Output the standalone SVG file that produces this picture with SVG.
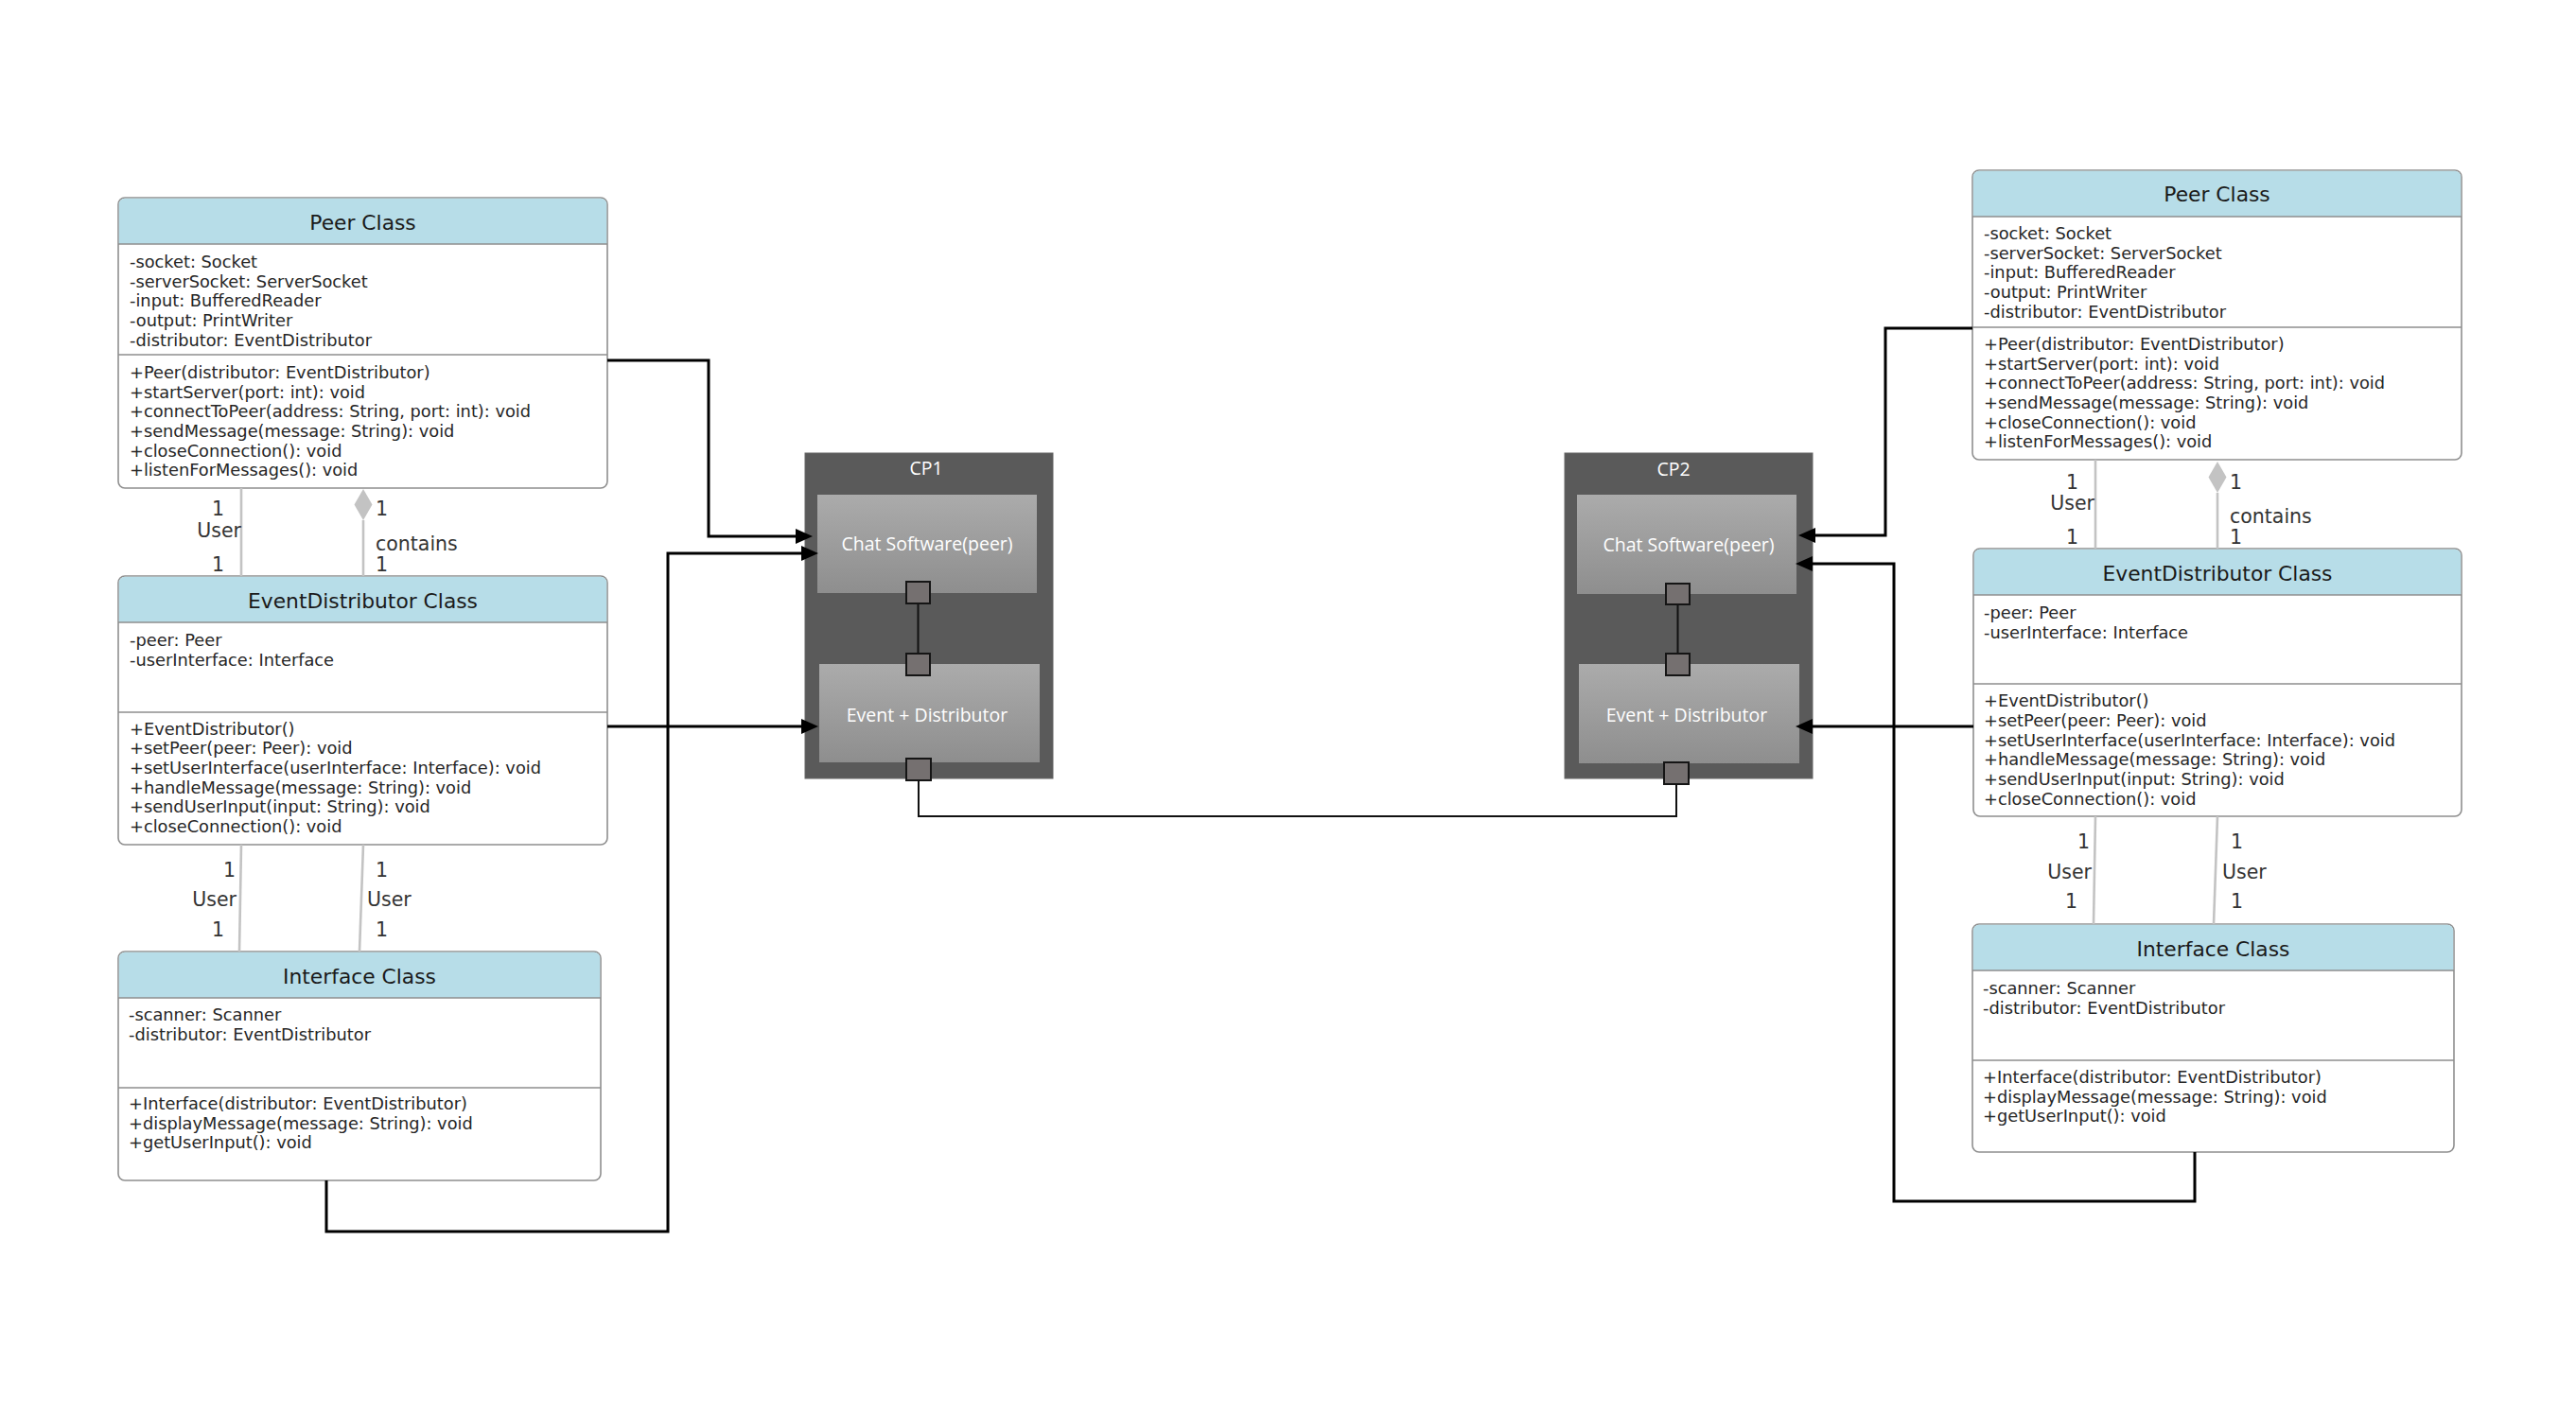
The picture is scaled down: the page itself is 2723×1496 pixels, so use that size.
<svg xmlns="http://www.w3.org/2000/svg" width="2723" height="1496" viewBox="0 0 2723 1496">
<style>
.box{fill:#ffffff;stroke:#8f8f8f;stroke-width:1.6}
.hdr{fill:#b7dde8}
.div{stroke:#8f8f8f;stroke-width:1.6}
.title{font-family:"DejaVu Sans",Verdana,sans-serif;font-size:21.8px;fill:#1a1a1a;text-anchor:middle}
.t{font-family:"DejaVu Sans",Verdana,sans-serif;font-size:17.8px;fill:#262626}
.lab{font-family:"DejaVu Sans",Verdana,sans-serif;font-size:20.5px;fill:#333333}
.end{text-anchor:end}
.assoc{stroke:#c3c3c3;stroke-width:2.6;fill:none}
.dia{fill:#c3c3c3}
.conn{stroke:#000000;stroke-width:3;fill:none}
.ah{fill:#000000}
.thin{stroke:#111111;stroke-width:2;fill:none}
.cp{fill:#5a5a5a;stroke:#666666;stroke-width:1}
.inner{fill:url(#g)}
.port{fill:#757070;stroke:#151515;stroke-width:2}
.cpt{font-family:"Open Sans","DejaVu Sans",sans-serif;font-size:19.5px;fill:#ffffff;text-anchor:middle}
</style>
<defs>
<linearGradient id="g" x1="0" y1="0" x2="0" y2="1">
<stop offset="0" stop-color="#ababab"/>
<stop offset="1" stop-color="#8e8e8e"/>
</linearGradient>
</defs>

<g id="peer-left">
<rect class="box" x="125" y="209" width="517" height="307" rx="7"/>
<path class="hdr" d="M132,209.8 H635 A6.2,6.2 0 0 1 641.2,216 V258 H125.8 V216 A6.2,6.2 0 0 1 132,209.8 z"/>
<path class="div" d="M125,258 H642 M125,375 H642"/>
<text class="title" x="383.5" y="243">Peer Class</text>
<text class="t" x="137" y="283">-socket: Socket</text>
<text class="t" x="137" y="304">-serverSocket: ServerSocket</text>
<text class="t" x="137" y="324">-input: BufferedReader</text>
<text class="t" x="137" y="345">-output: PrintWriter</text>
<text class="t" x="137" y="366">-distributor: EventDistributor</text>
<text class="t" x="137" y="400">+Peer(distributor: EventDistributor)</text>
<text class="t" x="137" y="421">+startServer(port: int): void</text>
<text class="t" x="137" y="441">+connectToPeer(address: String, port: int): void</text>
<text class="t" x="137" y="462">+sendMessage(message: String): void</text>
<text class="t" x="137" y="483">+closeConnection(): void</text>
<text class="t" x="137" y="503">+listenForMessages(): void</text>
</g>

<g id="eventdistributor-left">
<rect class="box" x="125" y="609" width="517" height="284" rx="7"/>
<path class="hdr" d="M132,609.8 H635 A6.2,6.2 0 0 1 641.2,616 V658 H125.8 V616 A6.2,6.2 0 0 1 132,609.8 z"/>
<path class="div" d="M125,658 H642 M125,753 H642"/>
<text class="title" x="383.5" y="643">EventDistributor Class</text>
<text class="t" x="137" y="683">-peer: Peer</text>
<text class="t" x="137" y="704">-userInterface: Interface</text>
<text class="t" x="137" y="777">+EventDistributor()</text>
<text class="t" x="137" y="797">+setPeer(peer: Peer): void</text>
<text class="t" x="137" y="818">+setUserInterface(userInterface: Interface): void</text>
<text class="t" x="137" y="839">+handleMessage(message: String): void</text>
<text class="t" x="137" y="859">+sendUserInput(input: String): void</text>
<text class="t" x="137" y="880">+closeConnection(): void</text>
</g>

<g id="interface-left">
<rect class="box" x="125" y="1006" width="510" height="242" rx="7"/>
<path class="hdr" d="M132,1006.8 H628 A6.2,6.2 0 0 1 634.2,1013 V1055 H125.8 V1013 A6.2,6.2 0 0 1 132,1006.8 z"/>
<path class="div" d="M125,1055 H635 M125,1150 H635"/>
<text class="title" x="380" y="1040">Interface Class</text>
<text class="t" x="136" y="1079">-scanner: Scanner</text>
<text class="t" x="136" y="1100">-distributor: EventDistributor</text>
<text class="t" x="136" y="1173">+Interface(distributor: EventDistributor)</text>
<text class="t" x="136" y="1194">+displayMessage(message: String): void</text>
<text class="t" x="136" y="1214">+getUserInput(): void</text>
</g>

<g id="cp1">
<rect class="cp" x="851" y="479" width="262" height="344"/>
<text class="cpt" x="979" y="502">CP1</text>
<rect class="inner" x="864" y="523" width="232" height="104"/>
<text class="cpt" x="980" y="582">Chat Software(peer)</text>
<rect class="inner" x="866" y="702" width="233" height="104"/>
<text class="cpt" x="980" y="763">Event + Distributor</text>
<path class="thin" d="M970.5,638 V691"/>
<rect class="port" x="958" y="615" width="25" height="23"/>
<rect class="port" x="958" y="691" width="25" height="23"/>
<rect class="port" x="958" y="802" width="26" height="23"/>
</g>

<g id="cp2">
<rect class="cp" x="1654" y="479" width="262" height="344"/>
<text class="cpt" x="1769" y="503">CP2</text>
<rect class="inner" x="1667" y="523" width="232" height="105"/>
<text class="cpt" x="1785" y="583">Chat Software(peer)</text>
<rect class="inner" x="1669" y="702" width="233" height="105"/>
<text class="cpt" x="1783" y="763">Event + Distributor</text>
<path class="thin" d="M1773.5,639 V691"/>
<rect class="port" x="1761" y="617" width="25" height="22"/>
<rect class="port" x="1761" y="691" width="25" height="23"/>
<rect class="port" x="1759" y="806" width="26" height="23"/>
</g>

<g id="peer-right">
<rect class="box" x="2085" y="180" width="517" height="306" rx="7"/>
<path class="hdr" d="M2092,180.8 H2595 A6.2,6.2 0 0 1 2601.2,187 V229 H2085.8 V187 A6.2,6.2 0 0 1 2092,180.8 z"/>
<path class="div" d="M2085,229 H2602 M2085,346 H2602"/>
<text class="title" x="2343.5" y="213">Peer Class</text>
<text class="t" x="2097" y="253">-socket: Socket</text>
<text class="t" x="2097" y="274">-serverSocket: ServerSocket</text>
<text class="t" x="2097" y="294">-input: BufferedReader</text>
<text class="t" x="2097" y="315">-output: PrintWriter</text>
<text class="t" x="2097" y="336">-distributor: EventDistributor</text>
<text class="t" x="2097" y="370">+Peer(distributor: EventDistributor)</text>
<text class="t" x="2097" y="391">+startServer(port: int): void</text>
<text class="t" x="2097" y="411">+connectToPeer(address: String, port: int): void</text>
<text class="t" x="2097" y="432">+sendMessage(message: String): void</text>
<text class="t" x="2097" y="453">+closeConnection(): void</text>
<text class="t" x="2097" y="473">+listenForMessages(): void</text>
</g>

<g id="eventdistributor-right">
<rect class="box" x="2086" y="580" width="516" height="283" rx="7"/>
<path class="hdr" d="M2093,580.8 H2595 A6.2,6.2 0 0 1 2601.2,587 V629 H2086.8 V587 A6.2,6.2 0 0 1 2093,580.8 z"/>
<path class="div" d="M2086,629 H2602 M2086,723 H2602"/>
<text class="title" x="2344" y="614">EventDistributor Class</text>
<text class="t" x="2097" y="654">-peer: Peer</text>
<text class="t" x="2097" y="675">-userInterface: Interface</text>
<text class="t" x="2097" y="747">+EventDistributor()</text>
<text class="t" x="2097" y="768">+setPeer(peer: Peer): void</text>
<text class="t" x="2097" y="789">+setUserInterface(userInterface: Interface): void</text>
<text class="t" x="2097" y="809">+handleMessage(message: String): void</text>
<text class="t" x="2097" y="830">+sendUserInput(input: String): void</text>
<text class="t" x="2097" y="851">+closeConnection(): void</text>
</g>

<g id="interface-right">
<rect class="box" x="2085" y="977" width="509" height="241" rx="7"/>
<path class="hdr" d="M2092,977.8 H2587 A6.2,6.2 0 0 1 2593.2,984 V1026 H2085.8 V984 A6.2,6.2 0 0 1 2092,977.8 z"/>
<path class="div" d="M2085,1026 H2594 M2085,1121 H2594"/>
<text class="title" x="2339.5" y="1011">Interface Class</text>
<text class="t" x="2096" y="1051">-scanner: Scanner</text>
<text class="t" x="2096" y="1072">-distributor: EventDistributor</text>
<text class="t" x="2096" y="1145">+Interface(distributor: EventDistributor)</text>
<text class="t" x="2096" y="1166">+displayMessage(message: String): void</text>
<text class="t" x="2096" y="1186">+getUserInput(): void</text>
</g>

<g id="connectors">
<path class="assoc" d="M255,516 V609"/>
<path class="assoc" d="M384,550 V609"/>
<path class="dia" d="M384,517 L393.5,533.5 L384,550 L374.5,533.5 z"/>
<path class="assoc" d="M255,893 L253,1006"/>
<path class="assoc" d="M384,893 L380,1006"/>
<path class="assoc" d="M2215,486 V580"/>
<path class="assoc" d="M2344,521 V580"/>
<path class="dia" d="M2344,488 L2353.5,504.5 L2344,521 L2334.5,504.5 z"/>
<path class="assoc" d="M2215,863 L2213,977"/>
<path class="assoc" d="M2344,863 L2340,977"/>
<text class="lab end" x="237" y="545">1</text>
<text class="lab end" x="255" y="568">User</text>
<text class="lab end" x="237" y="604">1</text>
<text class="lab" x="397" y="545">1</text>
<text class="lab" x="397" y="582">contains</text>
<text class="lab" x="397" y="604">1</text>
<text class="lab end" x="249" y="927">1</text>
<text class="lab end" x="250" y="958">User</text>
<text class="lab end" x="237" y="990">1</text>
<text class="lab" x="397" y="927">1</text>
<text class="lab" x="388" y="958">User</text>
<text class="lab" x="397" y="990">1</text>
<text class="lab end" x="2197" y="517">1</text>
<text class="lab end" x="2214" y="539">User</text>
<text class="lab end" x="2197" y="575">1</text>
<text class="lab" x="2357" y="517">1</text>
<text class="lab" x="2357" y="553">contains</text>
<text class="lab" x="2357" y="575">1</text>
<text class="lab end" x="2209" y="897">1</text>
<text class="lab end" x="2211" y="929">User</text>
<text class="lab end" x="2196" y="960">1</text>
<text class="lab" x="2358" y="897">1</text>
<text class="lab" x="2349" y="929">User</text>
<text class="lab" x="2358" y="960">1</text>
<path class="thin" d="M971,825 V863 H1772 V829"/>
<path class="conn" d="M642,381 H749 V567 H844"/>
<path class="ah" d="M841,559 L859,567 L841,575 z"/>
<path class="conn" d="M345,1248 V1302 H706 V585 H850"/>
<path class="ah" d="M847,577 L865,585 L847,593 z"/>
<path class="conn" d="M642,768 H850"/>
<path class="ah" d="M847,760 L865,768 L847,776 z"/>
<path class="conn" d="M2085,347 H1993 V566 H1916"/>
<path class="ah" d="M1919,558 L1901,566 L1919,574 z"/>
<path class="conn" d="M2320,1218 V1270 H2002 V596 H1913"/>
<path class="ah" d="M1916,588 L1898,596 L1916,604 z"/>
<path class="conn" d="M2086,768 H1913"/>
<path class="ah" d="M1916,760 L1898,768 L1916,776 z"/>
</g>
</svg>
